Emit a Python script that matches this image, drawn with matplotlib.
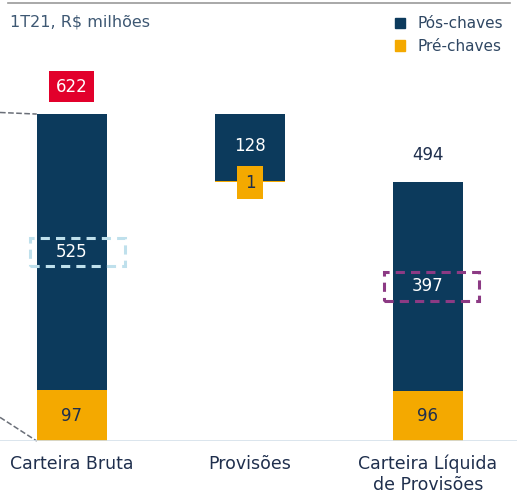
import matplotlib.pyplot as plt
from matplotlib.patches import Patch, Rectangle
from matplotlib.lines import Line2D

categories = ['Carteira Bruta', 'Provisões', 'Carteira Líquida\nde Provisões']
pos_chaves = [525, 128, 397]
pre_chaves = [97, 1, 96]
total_bruta = 622
total_liquida = 494

navy = '#0c3a5c'
yellow = '#f4a900'
red = '#e2002b'
text_dark = '#1f2f4d'

fig = plt.figure(figsize=(5.17, 4.93), dpi=100)
ax = fig.add_axes([0, 52 / 493, 1, 441 / 493])
ax.set_xlim(-0.404, 2.5)
ax.set_ylim(0, 839)
for s in ax.spines.values():
    s.set_visible(False)
ax.set_yticks([])

w = 0.395
x = [0, 1, 2]

# Carteira Bruta and Carteira Liquida: stacked
for i in (0, 2):
    ax.bar(x[i], pre_chaves[i], width=w, color=yellow)
    ax.bar(x[i], pos_chaves[i], bottom=pre_chaves[i], width=w, color=navy)

# Provisoes: floating bar hanging from the gross total
prov_bottom = total_bruta - pos_chaves[1]
ax.bar(x[1], pos_chaves[1], bottom=prov_bottom, width=w, color=navy)
ax.bar(x[1], pre_chaves[1], bottom=prov_bottom - pre_chaves[1], width=w, color=yellow)

fs = 12
# labels
ax.text(x[0], pre_chaves[0] / 2, str(pre_chaves[0]), ha='center', va='center', fontsize=fs, color=text_dark)
ax.text(x[2], pre_chaves[2] / 2, str(pre_chaves[2]), ha='center', va='center', fontsize=fs, color=text_dark)
ax.text(x[0], pre_chaves[0] + pos_chaves[0] / 2, str(pos_chaves[0]), ha='center', va='center', fontsize=fs, color='white')
ax.text(x[2], pre_chaves[2] + pos_chaves[2] / 2, str(pos_chaves[2]), ha='center', va='center', fontsize=fs, color='white')
ax.text(x[1], prov_bottom + pos_chaves[1] * 0.52, str(pos_chaves[1]), ha='center', va='center', fontsize=fs, color='white')
ax.text(x[1], prov_bottom - 3, str(pre_chaves[1]), ha='center', va='center', fontsize=fs, color=text_dark,
        bbox=dict(boxstyle='square,pad=0.45', fc=yellow, ec='none'))
ax.text(x[0], total_bruta + 52, str(total_bruta), ha='center', va='center', fontsize=fs, color='white',
        bbox=dict(boxstyle='square,pad=0.4', fc=red, ec='none'))
ax.text(x[2], total_liquida + 50, str(total_liquida), ha='center', va='center', fontsize=fs, color=text_dark)

# dashed highlight boxes
bw, bh = 0.535, 55
ax.add_patch(Rectangle((x[0] + 0.03 - bw / 2, pre_chaves[0] + pos_chaves[0] / 2 - bh / 2), bw, bh,
                       fill=False, ec='#bfe0ec', lw=2.2, ls=(0, (3, 2))))
ax.add_patch(Rectangle((x[2] + 0.02 - bw / 2, pre_chaves[2] + pos_chaves[2] / 2 - bh / 2), bw, bh,
                       fill=False, ec='#8c3a84', lw=2.2, ls=(0, (3, 2))))

# connector lines coming from the left panel
ax.plot([-0.404, x[0] - w / 2], [total_bruta + 3, total_bruta], ls='--', color='#6a6f78', lw=1.1, clip_on=False)
ax.plot([-0.404, x[0] - w / 2], [45, 0], ls='--', color='#6a6f78', lw=1.1, clip_on=False)

# baseline and top rule
ax.axhline(0, color='#d4e0ea', lw=1.2)
fig.add_artist(Line2D([8 / 517, 510 / 517], [1 - 3 / 493, 1 - 3 / 493], color='#9a9a9a', lw=1.2))

ax.set_xticks(x)
ax.set_xticklabels(categories, fontsize=12.5, color=text_dark, linespacing=1.2)
ax.tick_params(axis='x', length=0, pad=10)

fig.text(10 / 517, 1 - 22 / 493, '1T21, R$ milhões', fontsize=11.5, color='#3e5873', va='center')

handles = [Patch(color=navy, label='Pós-chaves'), Patch(color=yellow, label='Pré-chaves')]
fig.legend(handles=handles, loc='upper right', bbox_to_anchor=(1.0, 0.995), frameon=False,
           fontsize=11, handlelength=0.7, handleheight=0.7, handletextpad=0.8,
           labelspacing=0.5, labelcolor='#2f4763')

fig.savefig('out.png', dpi=100)
